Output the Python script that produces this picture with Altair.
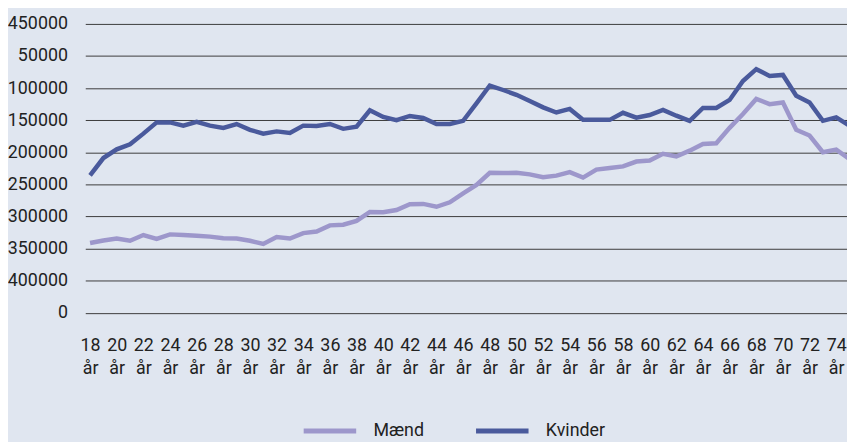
import altair as alt
import pandas as pd

ages = list(range(18, 76))
maend = [108500, 112500, 115500, 112000, 121000, 115000, 122000, 121000, 120000, 118500,
         116000, 115500, 112000, 107000, 118000, 115500, 124000, 126500, 136000, 137000,
         143000, 157000, 156500, 160000, 169000, 169500, 165000, 172000, 186000, 199000,
         218000, 217500, 218000, 215500, 211000, 213500, 219000, 210500, 223000, 225500,
         228000, 235500, 237000, 247500, 243500, 252500, 263000, 264000, 288000, 309500,
         333000, 325000, 327500, 285000, 276000, 250000, 254000, 239500]
kvinder = [214000, 241000, 254500, 262500, 279000, 296500, 296500, 291500, 297500, 291500,
           288000, 294000, 285000, 279000, 282500, 280000, 291500, 291000, 294000, 286500,
           290000, 315500, 305000, 300000, 306500, 303500, 294000, 294000, 299000, 326000,
           354000, 347000, 339500, 330000, 320000, 312000, 317500, 300500, 300500, 300500,
           311500, 304000, 308000, 316000, 307000, 299000, 319000, 319000, 331500, 361000,
           379500, 369000, 370500, 338000, 327500, 299000, 304500, 291500]
series_names = ["Mænd", "Kvinder"]
series_colors = ["#9d97cb", "#4a5a9c"]
x_ticks = list(range(18, 75, 2))
y_ticks = list(range(0, 450001, 50000))
y_tick_labels = ["0", "400000", "350000", "300000", "250000", "200000",
                 "150000", "100000", "50000", "450000"]

rows = []
for name, vals in zip(series_names, [maend, kvinder]):
    for a, v in zip(ages, vals):
        rows.append({"age": a, "value": v, "series": name})
df = pd.DataFrame(rows)

FONT = "Roboto"
FS = 18

label_list = "[" + ",".join("'" + s + "'" for s in y_tick_labels) + "]"

chart = alt.Chart(df).mark_line(strokeWidth=4.5, clip=True).encode(
    x=alt.X("age:Q",
            scale=alt.Scale(domain=[17.64, 74.81], nice=False, zero=False),
            axis=alt.Axis(values=x_ticks, labelExpr="[datum.label, 'år']",
                          grid=False, ticks=False, domain=False, title=None,
                          labelPadding=24, labelLineHeight=23, labelOverlap=False,
                          labelFlush=False)),
    y=alt.Y("value:Q",
            scale=alt.Scale(domain=[0, 450000], nice=False),
            axis=alt.Axis(values=y_ticks,
                          labelExpr=label_list + "[round(datum.value / 50000)]",
                          grid=True, gridColor="#3c3c3c", gridWidth=1,
                          ticks=False, domain=False, title=None,
                          labelPadding=18, labelOverlap=False, labelFlush=False)),
    color=alt.Color("series:N",
                    scale=alt.Scale(domain=series_names, range=series_colors),
                    legend=alt.Legend(orient="none", legendX=218, legendY=382,
                                      direction="horizontal", title=None,
                                      symbolType="stroke", symbolSize=2809,
                                      symbolStrokeWidth=5, labelOffset=15,
                                      columnPadding=41, padding=0,
                                      labelFontSize=FS, labelFont=FONT,
                                      labelColor="#222222")),
).properties(
    width=769, height=291.5,
    autosize=alt.AutoSizeParams(type="none"),
    padding={"left": 78, "top": 14, "right": 0, "bottom": 128.5},
    background="#e0e6f0",
).configure_view(stroke=None).configure_axis(
    labelFont=FONT, labelFontSize=FS, labelColor="#222222"
)

chart.save("out.html", embed_options={"renderer": "svg", "actions": False})
